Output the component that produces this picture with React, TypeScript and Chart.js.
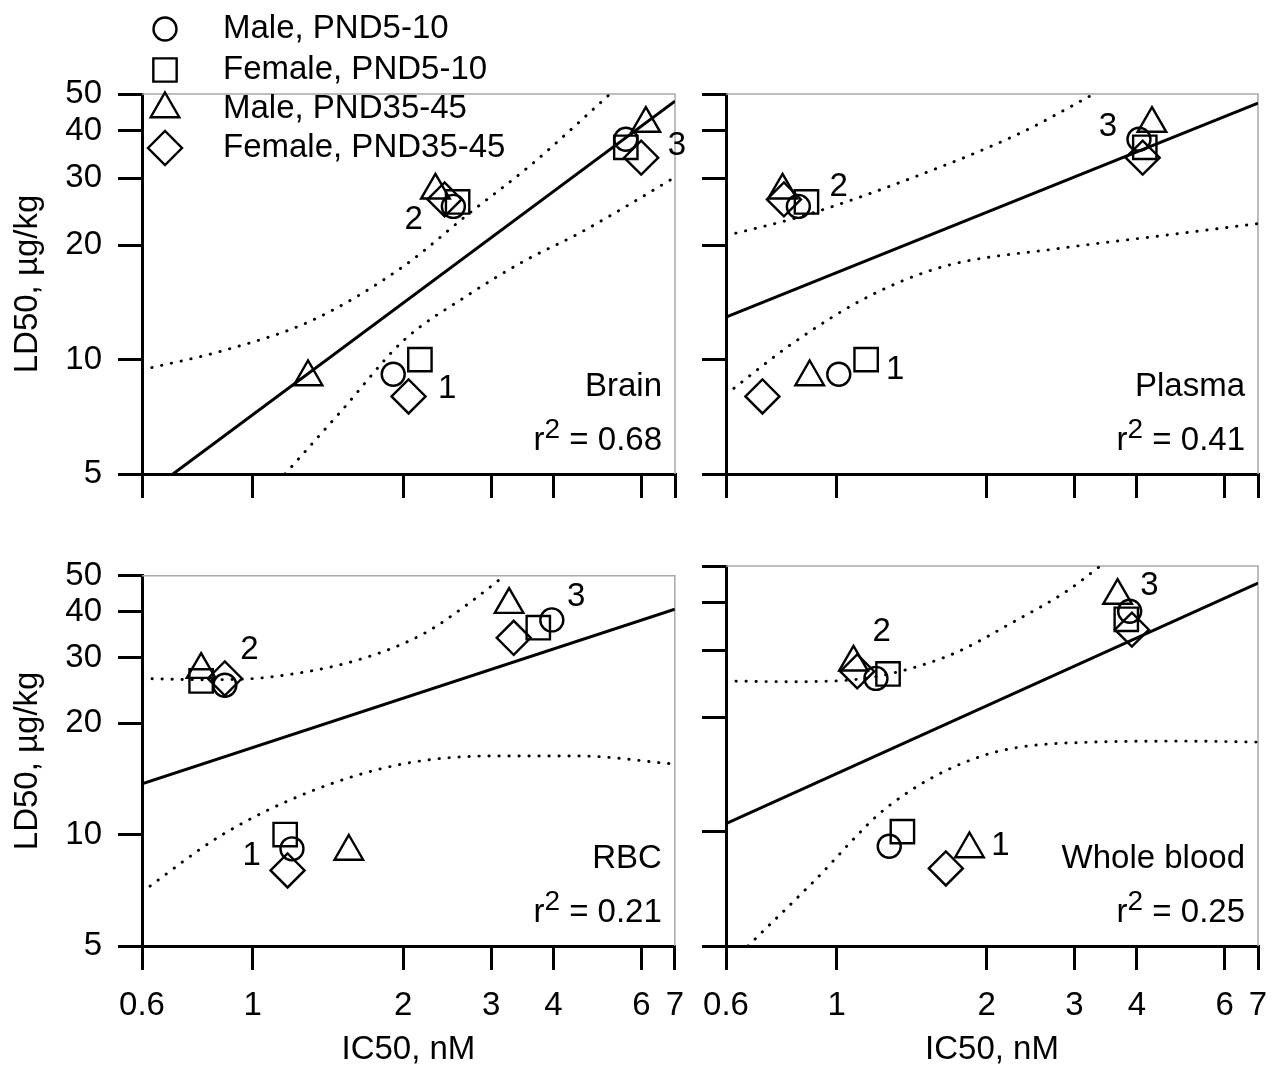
import React, { useEffect, useRef } from 'react';
import { Chart, registerables } from 'chart.js';

Chart.register(...registerables);

const FONT_FAMILY = '"Liberation Sans", Arimo, Arial, sans-serif';
const FS = 33;
const FS_SUP = 28;

// ---------- axes ----------
const xTickValues = [0.6, 1, 2, 3, 4, 6, 7];
const yTickValues = [5, 10, 20, 30, 40, 50];
const xAxisTitle = 'IC50, nM';
const yAxisTitle = 'LD50, µg/kg';

// ---------- series ----------
const seriesNames = ['Male, PND5-10', 'Female, PND5-10', 'Male, PND35-45', 'Female, PND35-45'];
const groupNumbers = ['1', '2', '3'];

// LD50 (µg/kg) for groups 1, 2, 3
const ld50MalePND5 = [9.15, 25.3, 38.0];
const ld50FemalePND5 = [10.0, 26.0, 36.2];
const ld50MalePND35 = [9.0, 27.9, 41.8];
const ld50FemalePND35 = [8.0, 26.4, 34.0];

// IC50 (nM) - Brain
const brainMalePND5 = [1.91, 2.52, 5.58];
const brainFemalePND5 = [2.16, 2.57, 5.58];
const brainMalePND35 = [1.29, 2.32, 6.12];
const brainFemalePND35 = [2.05, 2.42, 5.99];
// IC50 (nM) - Plasma
const plasmaMalePND5 = [1.01, 0.838, 4.04];
const plasmaFemalePND5 = [1.146, 0.87, 4.15];
const plasmaMalePND35 = [0.883, 0.779, 4.29];
const plasmaFemalePND35 = [0.71, 0.784, 4.11];
// IC50 (nM) - RBC
const rbcMalePND5 = [1.198, 0.879, 3.97];
const rbcFemalePND5 = [1.161, 0.788, 3.73];
const rbcMalePND35 = [1.557, 0.788, 3.26];
const rbcFemalePND35 = [1.174, 0.879, 3.33];
// IC50 (nM) - Whole blood
const wbMalePND5 = [1.275, 1.199, 3.87];
const wbFemalePND5 = [1.355, 1.268, 3.81];
const wbMalePND35 = [1.847, 1.081, 3.66];
const wbFemalePND35 = [1.656, 1.1, 3.91];

// regression lines
const brainFitX = [0.692, 7];
const brainFitY = [5, 47.9];
const plasmaFitX = [0.6, 7];
const plasmaFitY = [12.94, 47.3];
const rbcFitX = [0.6, 7];
const rbcFitY = [13.7, 40.6];
const wbFitX = [0.6, 7];
const wbFitY = [10.5, 45.1];

// confidence bands
const brainUpperX = [0.6, 0.87, 1.31, 1.99, 2.71, 3.6, 5.19];
const brainUpperY = [9.4, 10.55, 12.66, 17.5, 24.25, 32.5, 50];
const brainLowerX = [1.16, 1.5, 2.0, 2.7, 3.5, 4.5, 5.5, 7];
const brainLowerY = [5, 7.3, 11.2, 14.8, 18.2, 21.5, 25, 30.2];
const plasmaUpperX = [0.6, 0.848, 1.381, 2.33, 3.28];
const plasmaUpperY = [21.2, 23.8, 29.7, 39.4, 50];
const plasmaLowerX = [0.6, 0.818, 1.16, 1.645, 2.78, 4.5, 7];
const plasmaLowerY = [8.1, 11.06, 14.67, 17.6, 19.6, 21.2, 22.8];
const rbcUpperX = [0.6, 0.8, 1.07, 1.62, 2.2, 2.7, 3.19];
const rbcUpperY = [26.4, 26.2, 26.6, 29.6, 34.9, 42, 50];
const rbcLowerX = [0.6, 0.87, 1.31, 1.99, 3.0, 4.5, 7];
const rbcLowerY = [7.0, 10.0, 13.1, 15.5, 16.3, 16.3, 15.5];
const wbUpperX = [0.6, 0.8, 1.04, 1.64, 2.33, 2.9, 3.38];
const wbUpperY = [24.9, 24.8, 25.0, 28.7, 36.4, 43, 50];
const wbLowerX = [0.664, 0.893, 1.264, 1.953, 3.29, 5, 7];
const wbLowerY = [5, 7.32, 11.6, 15.8, 17.2, 17.3, 17.2];

// group-number label anchors
const brainNumX = [2.45, 2.1, 7.06];
const brainNumY = [8.37, 23.3, 36.5];
const plasmaNumX = [1.31, 1.009, 3.5];
const plasmaNumY = [9.39, 28.5, 40.9];
const rbcNumX = [0.995, 0.985, 4.44];
const rbcNumY = [8.74, 31.5, 43.9];
const wbNumX = [2.13, 1.232, 4.24];
const wbNumY = [9.15, 33.5, 44.4];

const panelNames = ['Brain', 'Plasma', 'RBC', 'Whole blood'];
const panelR2 = ['0.68', '0.41', '0.21', '0.25'];

const ld50All = [ld50MalePND5, ld50FemalePND5, ld50MalePND35, ld50FemalePND35];

type Spec = {
  name: string;
  r2: string;
  ic50: number[][];
  fitX: number[];
  fitY: number[];
  upX: number[];
  upY: number[];
  loX: number[];
  loY: number[];
  numX: number[];
  numY: number[];
};

const specs: Spec[] = [
  {
    name: panelNames[0], r2: panelR2[0],
    ic50: [brainMalePND5, brainFemalePND5, brainMalePND35, brainFemalePND35],
    fitX: brainFitX, fitY: brainFitY, upX: brainUpperX, upY: brainUpperY, loX: brainLowerX, loY: brainLowerY,
    numX: brainNumX, numY: brainNumY,
  },
  {
    name: panelNames[1], r2: panelR2[1],
    ic50: [plasmaMalePND5, plasmaFemalePND5, plasmaMalePND35, plasmaFemalePND35],
    fitX: plasmaFitX, fitY: plasmaFitY, upX: plasmaUpperX, upY: plasmaUpperY, loX: plasmaLowerX, loY: plasmaLowerY,
    numX: plasmaNumX, numY: plasmaNumY,
  },
  {
    name: panelNames[2], r2: panelR2[2],
    ic50: [rbcMalePND5, rbcFemalePND5, rbcMalePND35, rbcFemalePND35],
    fitX: rbcFitX, fitY: rbcFitY, upX: rbcUpperX, upY: rbcUpperY, loX: rbcLowerX, loY: rbcLowerY,
    numX: rbcNumX, numY: rbcNumY,
  },
  {
    name: panelNames[3], r2: panelR2[3],
    ic50: [wbMalePND5, wbFemalePND5, wbMalePND35, wbFemalePND35],
    fitX: wbFitX, fitY: wbFitY, upX: wbUpperX, upY: wbUpperY, loX: wbLowerX, loY: wbLowerY,
    numX: wbNumX, numY: wbNumY,
  },
];

// ---------- layout / style ----------
type Frame = {
  left: number; top: number; width: number; height: number;
  padTop: number; padRight: number; yAxisW: number; xAxisH: number;
  yLabels: boolean; xLabels: boolean; legend: boolean;
};
const frames: Frame[] = [
  { left: 0, top: 0, width: 700, height: 540, padTop: 94, padRight: 25, yAxisW: 142, xAxisH: 66, yLabels: true, xLabels: false, legend: true },
  { left: 680, top: 0, width: 620, height: 540, padTop: 94, padRight: 42, yAxisW: 46, xAxisH: 66, yLabels: false, xLabels: false, legend: false },
  { left: 0, top: 540, width: 700, height: 539, padTop: 26, padRight: 25, yAxisW: 142, xAxisH: 133, yLabels: true, xLabels: true, legend: false },
  { left: 680, top: 540, width: 620, height: 539, padTop: 26, padRight: 42, yAxisW: 46, xAxisH: 133, yLabels: false, xLabels: true, legend: false },
];
const markerStyles = ['circle', 'rect', 'triangle', 'rectRot'];
const markerRadii = [11.5, 16.5, 16.5, 17];
const markerStroke = 2.4;
const legendX = 165;
const legendTextX = 223;
const legendRowsY = [29, 70, 109, 148];

function drawMarker(ctx: CanvasRenderingContext2D, style: string, x: number, y: number, r: number) {
  ctx.beginPath();
  if (style === 'circle') {
    ctx.arc(x, y, r, 0, Math.PI * 2);
  } else if (style === 'rect') {
    const s = r * Math.SQRT1_2;
    ctx.rect(x - s, y - s, 2 * s, 2 * s);
  } else if (style === 'triangle') {
    const a = (2 * Math.PI) / 3;
    ctx.moveTo(x, y - r);
    ctx.lineTo(x + Math.sin(a) * r, y - Math.cos(a) * r);
    ctx.lineTo(x + Math.sin(2 * a) * r, y - Math.cos(2 * a) * r);
    ctx.closePath();
  } else {
    ctx.moveTo(x - r, y);
    ctx.lineTo(x, y - r);
    ctx.lineTo(x + r, y);
    ctx.lineTo(x, y + r);
    ctx.closePath();
  }
  ctx.stroke();
}

function makeConfig(spec: Spec, frame: Frame): any {
  const pts = (xs: number[], ys: number[]) => xs.map((x, i) => ({ x, y: ys[i] }));
  const datasets: any[] = [];
  datasets.push({
    label: 'fit', data: pts(spec.fitX, spec.fitY), showLine: true, borderColor: '#000',
    borderWidth: 3, pointRadius: 0, fill: false,
  });
  [[spec.upX, spec.upY], [spec.loX, spec.loY]].forEach(([xs, ys], k) => {
    datasets.push({
      label: k === 0 ? 'upper' : 'lower', data: pts(xs, ys), showLine: true, borderColor: '#000',
      borderWidth: 2.9, borderDash: [0.3, 9.7], borderCapStyle: 'round', pointRadius: 0, fill: false,
      cubicInterpolationMode: 'monotone',
    });
  });
  spec.ic50.forEach((xs, s) => {
    datasets.push({
      label: seriesNames[s], data: pts(xs, ld50All[s]), showLine: false,
      pointStyle: markerStyles[s], pointRadius: markerRadii[s], pointHoverRadius: markerRadii[s],
      pointBorderColor: '#000', pointBackgroundColor: 'rgba(0,0,0,0)', pointBorderWidth: markerStroke,
      borderColor: '#000', backgroundColor: 'rgba(0,0,0,0)',
    });
  });

  const tickFont = { family: FONT_FAMILY, size: FS };
  const decor = {
    id: 'decor',
    beforeDatasetsDraw(chart: any) {
      const { ctx, chartArea } = chart;
      ctx.save();
      ctx.strokeStyle = '#a8a8a8';
      ctx.lineWidth = 1.5;
      ctx.beginPath();
      ctx.moveTo(chartArea.left, chartArea.top);
      ctx.lineTo(chartArea.right, chartArea.top);
      ctx.lineTo(chartArea.right, chartArea.bottom);
      ctx.stroke();
      ctx.restore();
    },
    afterDatasetsDraw(chart: any) {
      const { ctx, chartArea, scales } = chart;
      const xs = scales.x;
      const ys = scales.y;
      ctx.save();
      ctx.fillStyle = '#000';
      ctx.font = `${FS}px ${FONT_FAMILY}`;
      ctx.textBaseline = 'middle';
      ctx.textAlign = 'center';
      spec.numX.forEach((v, i) => {
        ctx.fillText(groupNumbers[i], xs.getPixelForValue(v), ys.getPixelForValue(spec.numY[i]));
      });
      const xr = chartArea.right - 13;
      ctx.textAlign = 'right';
      ctx.fillText(spec.name, xr, chartArea.bottom - 87);
      const yr = chartArea.bottom - 33;
      const main = ' = ' + spec.r2;
      ctx.fillText(main, xr, yr);
      const w1 = ctx.measureText(main).width;
      ctx.font = `${FS_SUP}px ${FONT_FAMILY}`;
      ctx.fillText('2', xr - w1, yr - 11);
      const w2 = ctx.measureText('2').width;
      ctx.font = `${FS}px ${FONT_FAMILY}`;
      ctx.fillText('r', xr - w1 - w2, yr);
      ctx.restore();
    },
    afterDraw(chart: any) {
      if (!frame.legend) return;
      const { ctx } = chart;
      ctx.save();
      ctx.strokeStyle = '#000';
      ctx.lineWidth = markerStroke;
      ctx.fillStyle = '#000';
      ctx.font = `${FS}px ${FONT_FAMILY}`;
      ctx.textBaseline = 'middle';
      ctx.textAlign = 'left';
      seriesNames.forEach((name, i) => {
        const y = legendRowsY[i];
        drawMarker(ctx, markerStyles[i], legendX, y, markerRadii[i]);
        ctx.fillText(name, legendTextX, y);
      });
      ctx.restore();
    },
  };

  return {
    type: 'scatter',
    data: { datasets },
    plugins: [decor],
    options: {
      responsive: false,
      animation: false,
      events: [],
      layout: { padding: { top: frame.padTop, right: frame.padRight, left: 0, bottom: 0 } },
      plugins: { legend: { display: false }, tooltip: { enabled: false }, title: { display: false } },
      scales: {
        x: {
          type: 'logarithmic', position: 'bottom', min: 0.6, max: 7,
          afterBuildTicks: (s: any) => { s.ticks = xTickValues.map((v) => ({ value: v })); },
          afterFit: (s: any) => { s.height = frame.xAxisH; },
          ticks: {
            display: frame.xLabels, autoSkip: false, maxRotation: 0, minRotation: 0, padding: 16,
            color: '#000', font: tickFont, callback: (v: any) => String(v),
          },
          grid: { drawOnChartArea: false, drawTicks: true, tickLength: 24, tickWidth: 3, tickColor: '#000', color: '#000', lineWidth: 3 },
          border: { display: true, color: '#000', width: 3 },
          title: {
            display: frame.xLabels, text: xAxisTitle, color: '#000', font: tickFont,
            padding: { top: 0, bottom: 9 },
          },
        },
        y: {
          type: 'logarithmic', position: 'left', min: 5, max: 50,
          afterBuildTicks: (s: any) => { s.ticks = yTickValues.map((v) => ({ value: v })); },
          afterFit: (s: any) => { s.width = frame.yAxisW; },
          ticks: {
            display: frame.yLabels, autoSkip: false, padding: 16,
            color: '#000', font: tickFont, callback: (v: any) => String(v),
          },
          grid: { drawOnChartArea: false, drawTicks: true, tickLength: 24, tickWidth: 3, tickColor: '#000', color: '#000', lineWidth: 3 },
          border: { display: true, color: '#000', width: 3 },
          title: {
            display: frame.yLabels, text: yAxisTitle, color: '#000', font: tickFont,
            padding: { top: 8, bottom: 0 },
          },
        },
      },
    },
  };
}

function Panel({ spec, frame }: { spec: Spec; frame: Frame }) {
  const ref = useRef<HTMLCanvasElement>(null);
  useEffect(() => {
    const chart = new Chart(ref.current as HTMLCanvasElement, makeConfig(spec, frame));
    return () => chart.destroy();
  }, []);
  return (
    <canvas
      ref={ref}
      width={frame.width}
      height={frame.height}
      style={{ position: 'absolute', left: frame.left, top: frame.top, width: frame.width, height: frame.height }}
    />
  );
}

export default function App() {
  return (
    <div style={{ position: 'absolute', left: 0, top: 0, width: 1272, height: 1079, background: '#fff', overflow: 'hidden' }}>
      {specs.map((s, i) => (
        <Panel key={i} spec={s} frame={frames[i]} />
      ))}
    </div>
  );
}
